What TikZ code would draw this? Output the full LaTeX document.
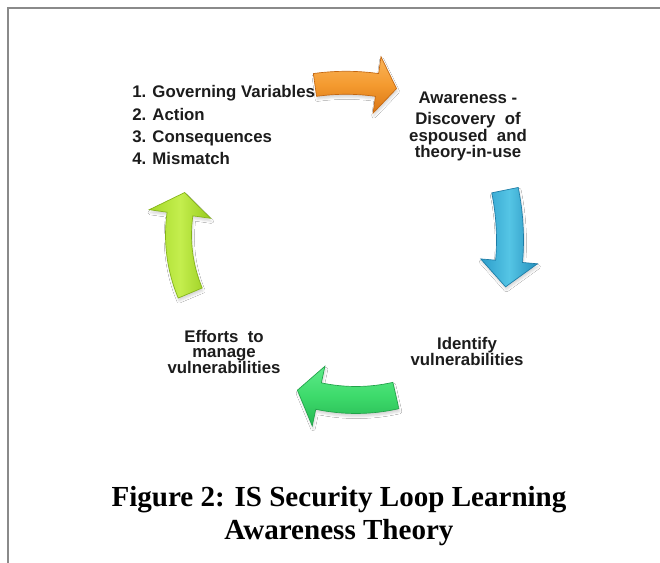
\documentclass[tikz,border=0pt]{standalone}
\usepackage{fontspec}
\setmainfont{Liberation Serif}
\setsansfont{Liberation Sans}
\usetikzlibrary{shadows.blur}

\definecolor{framegray}{HTML}{8A8A8A}
\definecolor{labelink}{HTML}{1C1C1C}
% arrow palettes
\definecolor{orTop}{HTML}{F9B45A}
\definecolor{orMid}{HTML}{F49A2F}
\definecolor{orBot}{HTML}{D97514}
\definecolor{orLine}{HTML}{C46710}
\definecolor{blLeft}{HTML}{2C9DCA}
\definecolor{blMid}{HTML}{55C5E5}
\definecolor{blRight}{HTML}{2590BD}
\definecolor{blLine}{HTML}{1D7CA6}
\definecolor{grTop}{HTML}{5DEA89}
\definecolor{grMid}{HTML}{3DDA6B}
\definecolor{grBot}{HTML}{27B853}
\definecolor{grLine}{HTML}{21A249}
\definecolor{ygLeft}{HTML}{A5D929}
\definecolor{ygMid}{HTML}{C4EE4E}
\definecolor{ygRight}{HTML}{97CB1D}
\definecolor{ygLine}{HTML}{84B318}

\tikzset{
  cyclearrow/.style={line width=0.5pt,
    blur shadow={shadow xshift=0.6pt, shadow yshift=-2.2pt,
                 shadow blur radius=1.6pt, shadow opacity=16}},
  steptext/.style={font=\sffamily\bfseries\fontsize{12.6}{15}\selectfont,
    text=labelink, inner sep=0pt},
  captiontext/.style={font=\rmfamily\bfseries\fontsize{21.8}{25}\selectfont,
    text=black, inner sep=0pt, anchor=base},
}

% curved block arrow on a circle: centre, radius, tail angle,
% head-base angle, tip angle, shaft half width, head half width, style
\newcommand\looparrow[8]{%
  \path[cyclearrow, shift={#1}, #8]
    (#3:{#2+#6}) arc[start angle=#3, end angle=#4, radius={#2+#6}]
    -- (#4:{#2+#7}) -- (#5:#2) -- (#4:{#2-#7})
    -- (#4:{#2-#6}) arc[start angle=#4, end angle=#3, radius={#2-#6}]
    -- cycle;}

\begin{document}
\begin{tikzpicture}[x=0.75pt, y=0.75pt]
  \useasboundingbox (0,0) rectangle (660,563);
  \fill[white] (0,0) rectangle (660,563);

  % page frame (top and left rules)
  \draw[framegray, line width=1.5pt] (660,555) -- (8,555) -- (8,0);

  % the four cycle arrows
  \looparrow{(346,257.2)}{223}{98}{82}{76.9}{11.5}{28.5}
    {draw=orLine, top color=orTop, bottom color=orBot, middle color=orMid}
  \looparrow{(260,323)}{250}{11.5}{-4.9}{-10.8}{13.5}{28.5}
    {draw=blLine, left color=blLeft, right color=blRight, middle color=blMid}
  \looparrow{(356,343)}{180}{-77.2}{-102}{-109}{13.5}{30.5}
    {draw=grLine, top color=grTop, bottom color=grBot, middle color=grMid}
  \looparrow{(328.5,328.1)}{150}{202.8}{172}{163.6}{13}{31}
    {draw=ygLine, left color=ygLeft, right color=ygRight, middle color=ygMid}

  % list of loop elements
  \node[steptext, anchor=base west] (gv) at (132,465) {1. Governing Variables};
  \node[steptext, anchor=base west] (ac) at (132,442) {2. Action};
  \node[steptext, anchor=base west] (co) at (132,420) {3. Consequences};
  \node[steptext, anchor=base west] (mm) at (132,398) {4. Mismatch};

  % awareness block
  \node[steptext, anchor=base] (aw1) at (468,459) {Awareness -};
  \node[steptext, anchor=base] (aw2) at (468,438) {Discovery\ \ of};
  \node[steptext, anchor=base] (aw3) at (468,421) {espoused\ \ and};
  \node[steptext, anchor=base] (aw4) at (468,405) {theory-in-use};

  % identify block
  \node[steptext, anchor=base] (id1) at (467,213) {Identify};
  \node[steptext, anchor=base] (id2) at (467,197) {vulnerabilities};

  % efforts block
  \node[steptext, anchor=base] (ef1) at (224,220) {Efforts\ \ to};
  \node[steptext, anchor=base] (ef2) at (224,205) {manage};
  \node[steptext, anchor=base] (ef3) at (224,189) {vulnerabilities};

  % caption
  \node[captiontext] (cap1) at (339,56) {Figure 2: IS Security Loop Learning};
  \node[captiontext] (cap2) at (339,23) {Awareness Theory};
\end{tikzpicture}
\end{document}
